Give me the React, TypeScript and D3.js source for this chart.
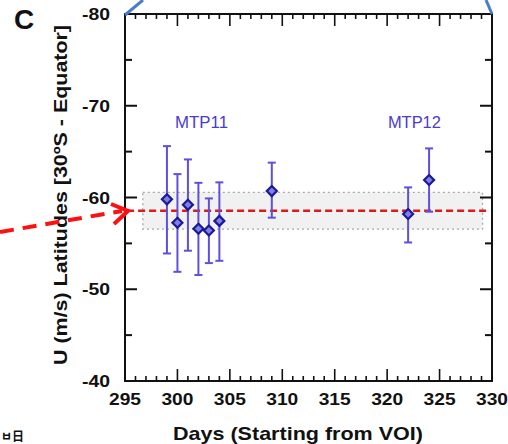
import React from "react";
import * as d3 from "d3";

const days = [299, 300, 301, 302, 303, 304, 309, 322, 324];
const values = [-59.8, -57.25, -59.2, -56.6, -56.4, -57.45, -60.7, -58.2, -61.9];
const errTop = [-65.6, -62.55, -64.15, -61.6, -59.9, -61.65, -63.8, -61.1, -65.35];
const errBottom = [-53.9, -51.9, -54.2, -51.55, -52.85, -53.1, -57.8, -55.1, -58.45];

const meanValue = -58.55;
const bandValues = [-60.55, -56.55];
const bandDays = [296.7, 329.1];
const meanDays = [295.2, 329.6];

const xTicks = [295, 300, 305, 310, 315, 320, 325, 330];
const yTicks = [-80, -70, -60, -50, -40];
const groupLabels = ["MTP11", "MTP12"];
const groupLabelDays = [302.3, 322.6];
const groupLabelValue = -67.6;

const W = 508;
const H = 444;
const L = 125, R = 492, T = 14, B = 381;

export default function App() {
  const x = d3.scaleLinear().domain([295, 330]).range([L, R]);
  const y = d3.scaleLinear().domain([-80, -40]).range([T, B]);
  const xMinor = d3.range(295, 331, 1);
  const yMinor = d3.range(-80, -39, 5);
  const font = "'Liberation Sans', Arial, sans-serif";
  const errColor = "#5e4fe0";

  return (
    <svg width={W} height={H} style={{ position: "absolute", left: 0, top: 0, background: "#fff" }}>
      {/* band */}
      <rect x={x(bandDays[0])} y={y(bandValues[0])} width={x(bandDays[1]) - x(bandDays[0])}
        height={y(bandValues[1]) - y(bandValues[0])} fill="#f1f1f1" stroke="#a8a8a8" strokeWidth={1.3} strokeDasharray="2 3" />
      {/* mean line */}
      <line x1={x(meanDays[0])} x2={x(meanDays[1])} y1={y(meanValue)} y2={y(meanValue)} stroke="#d81c1c" strokeWidth={2.5} strokeDasharray="7 4" />

      {/* error bars */}
      {days.map((d, i) => {
        const cx = x(d);
        const cy = y(values[i]);
        return (
          <g key={i}>
            <line x1={cx} x2={cx} y1={y(errTop[i])} y2={y(errBottom[i])} stroke={errColor} strokeWidth={2} />
            <line x1={cx - 4} x2={cx + 4} y1={y(errTop[i])} y2={y(errTop[i])} stroke={errColor} strokeWidth={2} />
            <line x1={cx - 4} x2={cx + 4} y1={y(errBottom[i])} y2={y(errBottom[i])} stroke={errColor} strokeWidth={2} />
            <path d={`M${cx},${cy - 5} L${cx + 5},${cy} L${cx},${cy + 5} L${cx - 5},${cy} Z`}
              fill="#7f7fe6" stroke="#1a1a96" strokeWidth={2.2} />
          </g>
        );
      })}

      {groupLabels.map((t, i) => (
        <text key={t} x={x(groupLabelDays[i])} y={y(groupLabelValue)} textAnchor="middle" fontFamily={font}
          fontSize={16} fill="#4a3bd2" textLength={53} lengthAdjust="spacingAndGlyphs">{t}</text>
      ))}

      {/* axes frame */}
      <rect x={L} y={T} width={R - L} height={B - T} fill="none" stroke="#111" strokeWidth={2} />
      {xMinor.map((d) => {
        const major = d % 5 === 0;
        const len = major ? 12 : 5;
        return (
          <g key={"xt" + d}>
            <line x1={x(d)} x2={x(d)} y1={T} y2={T + len} stroke="#111" strokeWidth={1.6} />
            <line x1={x(d)} x2={x(d)} y1={B} y2={B - len} stroke="#111" strokeWidth={1.6} />
          </g>
        );
      })}
      {yMinor.map((v) => {
        const major = v % 10 === 0;
        const len = major ? 12 : 7;
        return (
          <g key={"yt" + v}>
            <line x1={L} x2={L + len} y1={y(v)} y2={y(v)} stroke="#111" strokeWidth={2} />
            <line x1={R} x2={R - len} y1={y(v)} y2={y(v)} stroke="#111" strokeWidth={2} />
          </g>
        );
      })}
      {xTicks.map((d) => (
        <text key={"xl" + d} x={x(d)} y={405} textAnchor="middle" fontFamily={font} fontWeight="bold"
          fontSize={17} fill="#111" textLength={32} lengthAdjust="spacingAndGlyphs">{d}</text>
      ))}
      {yTicks.map((v) => (
        <text key={"yl" + v} x={110} y={y(v) + 6} textAnchor="end" fontFamily={font} fontWeight="bold"
          fontSize={17} fill="#111" textLength={28} lengthAdjust="spacingAndGlyphs">{v}</text>
      ))}

      {/* axis titles */}
      <text x={298} y={440} textAnchor="middle" fontFamily={font} fontWeight="bold" fontSize={19}
        fill="#111" textLength={250} lengthAdjust="spacingAndGlyphs">Days (Starting from VOI)</text>
      <text transform={`translate(67,195) rotate(-90)`} textAnchor="middle" fontFamily={font} fontWeight="bold"
        fontSize={19} fill="#111" textLength={340} lengthAdjust="spacingAndGlyphs">U (m/s) Latitudes [30ºS - Equator]</text>

      {/* panel letter */}
      <text x={14} y={29} fontFamily={font} fontWeight="bold" fontSize={28} fill="#111">C</text>

      {/* decorations from surrounding figure */}
      <line x1={L} y1={T + 1} x2={143} y2={0} stroke="#4a7cc7" strokeWidth={3} />
      <line x1={R} y1={T} x2={486} y2={0} stroke="#4a7cc7" strokeWidth={3} />
      <line x1={0} y1={232} x2={122} y2={211} stroke="#ff1010" strokeWidth={4} strokeDasharray="14 9" />
      <polyline points="111,204 128,211 114,224" fill="none" stroke="#ff1010" strokeWidth={4} />
      <text x={1} y={441} fontFamily="'Noto Sans CJK KR', sans-serif" fontWeight="bold" fontSize={12} fill="#111">ㅂ日</text>
    </svg>
  );
}
